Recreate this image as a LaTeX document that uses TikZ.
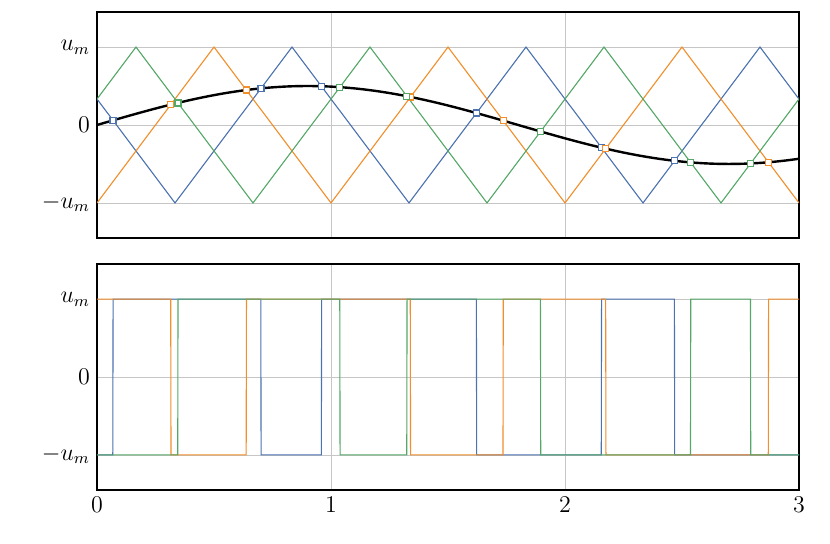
\documentclass[tikz,border=0pt]{standalone}
\usepackage{pgfplots}
\pgfplotsset{compat=1.18}
\usetikzlibrary{intersections}
\definecolor{cblue}{HTML}{4C72B0}
\definecolor{corange}{HTML}{F28E2B}
\definecolor{cgreen}{HTML}{55A868}
\pgfplotsset{
  pwmaxis/.style={scale only axis, width=351pt, height=113pt,
    xmin=0, xmax=3, ymin=-1.45, ymax=1.45,
    xtick={0,1,2,3}, ytick={-1,0,1}, yticklabels={$-u_m$,$0$,$u_m$},
    tick label style={font=\large},
    grid=major, major grid style={gray!45, line width=0.4pt},
    major tick length=0pt, axis line style={line width=0.6pt},
    every axis plot/.append style={line width=0.55pt},
    declare function={tri(\x,\p)=1-4*abs(\x-\p-round(\x-\p)); ref(\x)=0.5*sin(100*\x);}},
}
\tikzset{crossmark/.style={draw=#1, fill=white, inner sep=0pt, minimum size=3pt, line width=0.6pt}}
\begin{document}
\begin{tikzpicture}
  \useasboundingbox (0,0) rectangle (415pt,272pt);
  % carriers and reference
  \begin{axis}[pwmaxis, at={(48.5pt,153pt)}, anchor=south west, xticklabels={}]
    \addplot[cblue, name path=blue, domain=0:3, samples=19] {tri(x,5/6)};
    \addplot[corange, name path=orange, domain=0:3, samples=19] {tri(x,1/2)};
    \addplot[cgreen, name path=green, domain=0:3, samples=19] {tri(x,1/6)};
    \addplot[black, line width=1.2pt, name path=sine, domain=0:3, samples=151, smooth] {ref(x)};
    \path[name intersections={of=sine and blue, name=ib, total=\t}]
      \foreach \i in {1,...,\t}{ node[crossmark=cblue] at (ib-\i) {} };
    \path[name intersections={of=sine and orange, name=io, total=\t}]
      \foreach \i in {1,...,\t}{ node[crossmark=corange] at (io-\i) {} };
    \path[name intersections={of=sine and green, name=ig, total=\t}]
      \foreach \i in {1,...,\t}{ node[crossmark=cgreen] at (ig-\i) {} };
  \end{axis}
  % switching signals
  \begin{axis}[pwmaxis, at={(48.5pt,27pt)}, anchor=south west]
    \addplot[cblue, domain=0:3, samples=2401] {ref(x)>tri(x,5/6) ? 1 : -1};
    \addplot[corange, domain=0:3, samples=2401] {ref(x)>tri(x,1/2) ? 1 : -1};
    \addplot[cgreen, domain=0:3, samples=2401] {ref(x)>tri(x,1/6) ? 1 : -1};
  \end{axis}
\end{tikzpicture}
\end{document}
